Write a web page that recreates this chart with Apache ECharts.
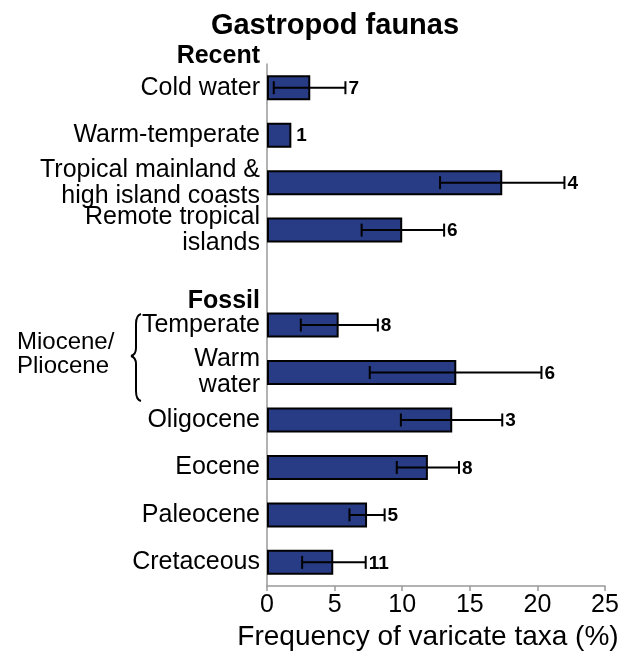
<!DOCTYPE html>
<html><head><meta charset="utf-8">
<script src="https://cdn.jsdelivr.net/npm/echarts@6/dist/echarts.min.js"></script>
<style>html,body{margin:0;padding:0;background:#fff}#c{width:634px;height:656px}</style>
</head><body><div id="c"></div>
<script>
const categories = ['Cold water','Warm-temperate','Tropical mainland &\nhigh island coasts','Remote tropical\nislands','','Temperate','Warm\nwater','Oligocene','Eocene','Paleocene','Cretaceous'];
const meanValues = [3.2, 1.8, 17.4, 10.0, null, 5.3, 14.0, 13.7, 11.9, 7.4, 4.9];
const lowValues  = [0.5, null, 12.8, 7.0, null, 2.5, 7.6, 9.9, 9.6, 6.1, 2.6];
const highValues = [5.8, null, 22.0, 13.1, null, 8.2, 20.3, 17.4, 14.2, 8.7, 7.3];
const counts     = [7, 1, 4, 6, null, 8, 6, 3, 8, 5, 11];
const xTicks = [0, 5, 10, 15, 20, 25];

const FONT = '"Liberation Sans", Arial, Helvetica, sans-serif';
const gridLeft = 267, gridTop = 64, gridHeight = 531, gridRight = 29;

const chart = echarts.init(document.getElementById('c'));
const errData = categories.map((c, i) => [i, lowValues[i], highValues[i], meanValues[i], counts[i]]);

chart.setOption({
  animation: false,
  title: {
    text: 'Gastropod faunas', left: 330, top: 6, textAlign: 'center',
    textStyle: {fontFamily: FONT, fontSize: 29, fontWeight: 'bold', color: '#000'}
  },
  grid: {left: gridLeft, top: gridTop, height: gridHeight, right: gridRight},
  xAxis: {
    type: 'value', min: 0, max: 25, interval: 5,
    axisLine: {show: true, lineStyle: {color: '#999', width: 1.5}},
    axisTick: {show: true, length: 5, lineStyle: {color: '#999', width: 1.5}},
    axisLabel: {fontFamily: FONT, fontSize: 25, color: '#000', margin: 7,
      formatter: v => xTicks.includes(v) ? String(v) : ''},
    splitLine: {show: false},
    name: 'Frequency of varicate taxa (%)', nameLocation: 'middle', nameGap: 32,
    nameTextStyle: {fontFamily: FONT, fontSize: 28, color: '#000', padding: [0, 16, 0, 0]}
  },
  yAxis: {
    type: 'category', data: categories, inverse: true,
    axisLine: {show: true, lineStyle: {color: '#999', width: 1.5}},
    axisTick: {show: false},
    axisLabel: {fontFamily: FONT, fontSize: 25, color: '#000', margin: 7, lineHeight: 26, align: 'right'}
  },
  series: [
    {
      type: 'bar', data: meanValues, barWidth: 25,
      itemStyle: {color: '#273c85', borderColor: '#000', borderWidth: 2}
    },
    {
      type: 'custom', data: errData, z: 5,
      encode: {x: [1, 2], y: 0},
      renderItem: function (params, api) {
        const idx = api.value(0);
        const lo = api.value(1), hi = api.value(2), mean = api.value(3), n = api.value(4);
        if (isNaN(mean)) return null;
        const children = [];
        const cap = 6.5;
        let endX;
        if (!isNaN(lo) && !isNaN(hi)) {
          const pLo = api.coord([lo, idx]);
          const pHi = api.coord([hi, idx]);
          const st = {stroke: '#000', lineWidth: 2};
          children.push({type: 'line', shape: {x1: pLo[0], y1: pLo[1], x2: pHi[0], y2: pHi[1]}, style: st});
          children.push({type: 'line', shape: {x1: pLo[0], y1: pLo[1] - cap, x2: pLo[0], y2: pLo[1] + cap}, style: st});
          children.push({type: 'line', shape: {x1: pHi[0], y1: pHi[1] - cap, x2: pHi[0], y2: pHi[1] + cap}, style: st});
          endX = pHi[0] + 3;
        } else {
          endX = api.coord([mean, idx])[0] + 5;
        }
        const pc = api.coord([mean, idx]);
        children.push({type: 'text', style: {x: endX, y: pc[1] + 1, text: String(n), fill: '#000',
          font: 'bold 19px ' + FONT, textAlign: 'left', textVerticalAlign: 'middle'}});
        return {type: 'group', children: children};
      }
    }
  ],
  graphic: [
    {type: 'text', x: 260, y: 56, style: {text: 'Recent', font: 'bold 25px ' + FONT, fill: '#000', textAlign: 'right', textVerticalAlign: 'middle'}},
    {type: 'text', x: 260, y: 301, style: {text: 'Fossil', font: 'bold 25px ' + FONT, fill: '#000', textAlign: 'right', textVerticalAlign: 'middle'}},
    {type: 'text', x: 17, y: 354, style: {text: 'Miocene/\nPliocene', font: '24px ' + FONT, fill: '#000', textAlign: 'left', textVerticalAlign: 'middle', lineHeight: 24}},
    {type: 'group', children: [
      {type: 'bezierCurve', shape: {x1: 141, y1: 314, cpx1: 137, cpy1: 315, cpx2: 136, cpy2: 318, x2: 136, y2: 324}, style: {stroke: '#000', lineWidth: 2, fill: null}},
      {type: 'line', shape: {x1: 136, y1: 324, x2: 136, y2: 348}, style: {stroke: '#000', lineWidth: 2}},
      {type: 'bezierCurve', shape: {x1: 136, y1: 348, cpx1: 136, cpy1: 353, cpx2: 134, cpy2: 355, x2: 131, y2: 356}, style: {stroke: '#000', lineWidth: 2, fill: null}},
      {type: 'bezierCurve', shape: {x1: 131, y1: 356, cpx1: 134, cpy1: 357, cpx2: 136, cpy2: 359, x2: 136, y2: 364}, style: {stroke: '#000', lineWidth: 2, fill: null}},
      {type: 'line', shape: {x1: 136, y1: 364, x2: 136, y2: 391}, style: {stroke: '#000', lineWidth: 2}},
      {type: 'bezierCurve', shape: {x1: 136, y1: 391, cpx1: 136, cpy1: 397, cpx2: 137, cpy2: 400, x2: 141, y2: 401}, style: {stroke: '#000', lineWidth: 2, fill: null}}
    ]}
  ]
});
</script>
</body></html>
